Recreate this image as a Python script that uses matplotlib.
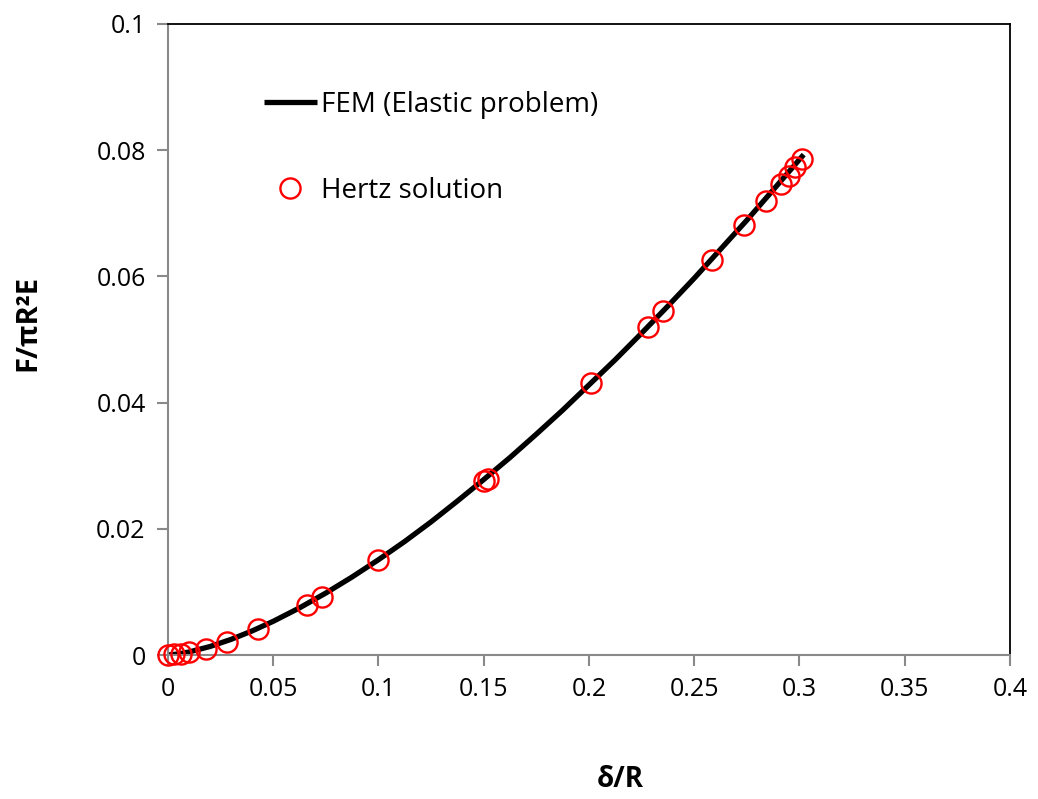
import matplotlib
matplotlib.use("Agg")
import matplotlib.pyplot as plt

# FEM (Elastic problem) curve
fem_x = [0, 0.005, 0.01, 0.02, 0.03, 0.04, 0.05, 0.0625, 0.075, 0.0875, 0.1, 0.1125, 0.125, 0.1375,
         0.15, 0.1625, 0.175, 0.1875, 0.2, 0.2125, 0.225, 0.2375, 0.25, 0.2625, 0.275, 0.2875, 0.302]
fem_y = [0, 0.00017, 0.00048, 0.00135, 0.00248, 0.00382, 0.00534, 0.00747, 0.00982, 0.01237, 0.0151,
         0.0180, 0.0211, 0.0244, 0.0278, 0.0313, 0.0350, 0.0388, 0.0428, 0.0468, 0.0510, 0.0553,
         0.0597, 0.0643, 0.0689, 0.0737, 0.0793]

# Hertz solution points
hertz_x = [0, 0.003, 0.006, 0.010, 0.018, 0.028, 0.043, 0.066, 0.073, 0.100, 0.150, 0.152,
           0.201, 0.228, 0.235, 0.2585, 0.2736, 0.284, 0.291, 0.295, 0.298, 0.301]
hertz_y = [0, 0.0001, 0.0002, 0.0005, 0.001, 0.0021, 0.0042, 0.0079, 0.0092, 0.0150, 0.0275, 0.0279,
           0.0431, 0.0520, 0.0545, 0.0626, 0.0681, 0.0720, 0.0746, 0.0759, 0.0773, 0.0786]

x_ticks = [0, 0.05, 0.1, 0.15, 0.2, 0.25, 0.3, 0.35, 0.4]
x_tick_labels = ["0", "0.05", "0.1", "0.15", "0.2", "0.25", "0.3", "0.35", "0.4"]
y_ticks = [0, 0.02, 0.04, 0.06, 0.08, 0.1]
y_tick_labels = ["0", "0.02", "0.04", "0.06", "0.08", "0.1"]

plt.rcParams['font.family'] = ['Open Sans', 'DejaVu Sans']

fig = plt.figure(figsize=(10.38, 7.99), dpi=100)
ax = fig.add_axes([0.1618, 0.1802, 0.973 - 0.1618, 0.970 - 0.1802])

ax.plot(fem_x, fem_y, color='black', lw=3.8, label='FEM (Elastic problem)', zorder=2,
        solid_capstyle='butt')
ax.plot(hertz_x, hertz_y, linestyle='none', marker='o', markersize=14.5, markerfacecolor='none',
        markeredgecolor='#ff0000', markeredgewidth=1.7, label='Hertz solution', zorder=3,
        clip_on=False)

ax.set_xlim(0, 0.4)
ax.set_ylim(0, 0.1)
ax.set_xticks(x_ticks)
ax.set_xticklabels(x_tick_labels)
ax.set_yticks(y_ticks)
ax.set_yticklabels(y_tick_labels)

for s in ['top', 'right']:
    ax.spines[s].set_color('black')
    ax.spines[s].set_linewidth(1.3)
for s in ['left', 'bottom']:
    ax.spines[s].set_color('#898989')
    ax.spines[s].set_linewidth(1.5)
ax.tick_params(axis='both', direction='out', length=8, width=1.5, color='#898989',
               labelsize=18, labelcolor='black')
ax.tick_params(axis='x', pad=8)
ax.tick_params(axis='y', pad=8)

fig.text(0.027, 0.596, "F/\u03c0R\u00b2E", rotation=90, ha='center', va='center',
         fontsize=21, fontweight='bold')
fig.text(0.598, 0.024, "\u03b4/R", ha='center', va='center', fontsize=20, fontweight='bold')

leg = ax.legend(loc='upper left', bbox_to_anchor=(0.101, 0.912), frameon=False, fontsize=20,
                handlelength=1.9, handletextpad=0.15, labelspacing=2.1, borderaxespad=0)

fig.savefig("out.png", dpi=100, facecolor='white')
